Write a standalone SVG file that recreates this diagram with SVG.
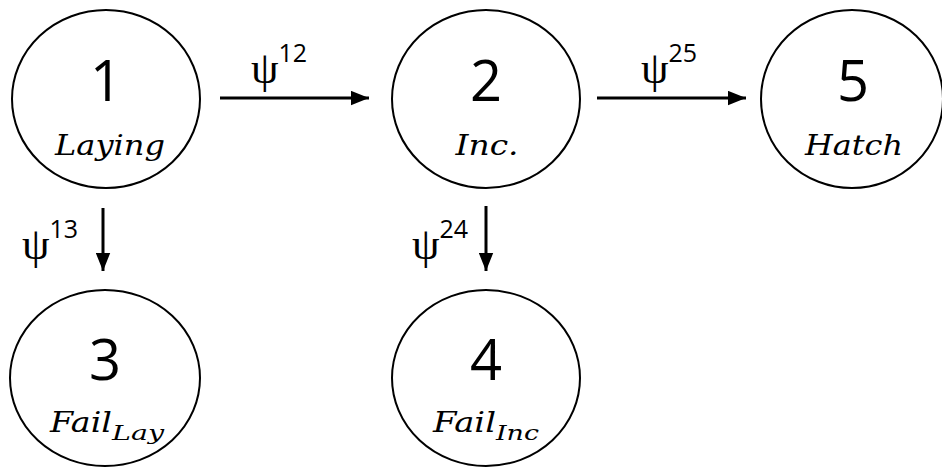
<svg xmlns="http://www.w3.org/2000/svg" width="942" height="468" viewBox="0 0 942 468">
<defs>
<style>
.node{fill:#fff;stroke:#000;stroke-width:2}
.num{font-family:"Open Sans","Liberation Sans",sans-serif;font-size:56px;text-anchor:middle;fill:#000}
.lbl{font-family:"DejaVu Serif","Liberation Serif",serif;font-style:italic;font-size:28px;fill:#000}
.sub{font-family:"DejaVu Serif","Liberation Serif",serif;font-style:italic;font-size:21px;fill:#000}
.psi{font-family:"Liberation Serif","DejaVu Serif",serif;font-size:44px;fill:#000}
.sup{font-family:"Open Sans","Liberation Sans",sans-serif;font-size:25px;fill:#000}
.edge{stroke:#000;stroke-width:3;fill:none;marker-end:url(#ah)}
</style>
<marker id="ah" markerWidth="6" markerHeight="5" refX="10" refY="4" orient="auto" markerUnits="strokeWidth" viewBox="0 0 10 8">
<path d="M0,0 L10,4 L0,8 z" fill="#000"/>
</marker>
</defs>
<g id="connectors">
<line class="edge" x1="220" y1="98" x2="369" y2="98"/>
<line class="edge" x1="597" y1="98" x2="746" y2="98"/>
<line class="edge" x1="103" y1="208" x2="103" y2="271"/>
<line class="edge" x1="486" y1="206" x2="486" y2="271"/>
<text class="psi" x="251" y="83">ψ<tspan class="sup" dy="-21">12</tspan></text>
<text class="psi" x="641" y="83">ψ<tspan class="sup" dy="-21">25</tspan></text>
<text class="psi" x="22" y="259">ψ<tspan class="sup" dy="-21">13</tspan></text>
<text class="psi" x="412" y="259">ψ<tspan class="sup" dy="-21">24</tspan></text>
</g>
<g id="node1">
<ellipse class="node" cx="106" cy="99" rx="94" ry="89"/>
<text class="num" x="106" y="101">1</text>
<text class="lbl" x="110" y="155" text-anchor="middle" textLength="110" lengthAdjust="spacingAndGlyphs">Laying</text>
</g>
<g id="node2">
<ellipse class="node" cx="486" cy="99" rx="94" ry="89"/>
<text class="num" x="486" y="101">2</text>
<text class="lbl" x="487" y="155" text-anchor="middle" textLength="63" lengthAdjust="spacingAndGlyphs">Inc.</text>
</g>
<g id="node5">
<ellipse class="node" cx="852" cy="99" rx="91" ry="89"/>
<text class="num" x="853" y="101">5</text>
<text class="lbl" x="854" y="155" text-anchor="middle" textLength="98" lengthAdjust="spacingAndGlyphs">Hatch</text>
</g>
<g id="node3">
<ellipse class="node" cx="105" cy="378" rx="95" ry="88"/>
<text class="num" x="105" y="380">3</text>
<text class="lbl" x="50" y="432"><tspan textLength="62" lengthAdjust="spacingAndGlyphs">Fail</tspan><tspan class="sub" dy="8" textLength="52" lengthAdjust="spacingAndGlyphs">Lay</tspan></text>
</g>
<g id="node4">
<ellipse class="node" cx="486" cy="378" rx="94" ry="88"/>
<text class="num" x="486" y="380">4</text>
<text class="lbl" x="433" y="432"><tspan textLength="63" lengthAdjust="spacingAndGlyphs">Fail</tspan><tspan class="sub" dy="8" textLength="43" lengthAdjust="spacingAndGlyphs">Inc</tspan></text>
</g>
</svg>
